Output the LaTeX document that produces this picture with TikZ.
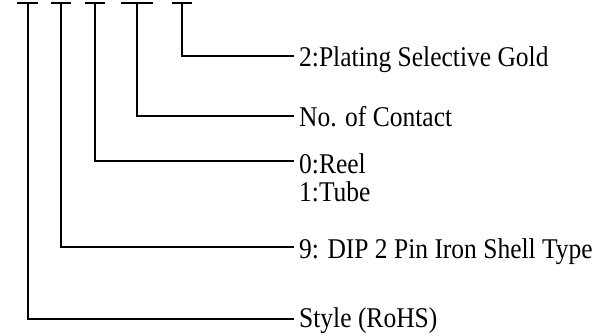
\documentclass[tikz,border=0pt]{standalone}
\usepackage{fontspec}
\usepackage{graphicx}
\setmainfont{Liberation Serif}
\newcommand\tallt[1]{\scalebox{1}[1.12]{#1}}
\begin{document}
\begin{tikzpicture}[x=1pt,y=-1pt,
  lbl/.style={anchor=base west,inner sep=0pt,font=\fontsize{25.5}{23.2}\selectfont},
  wire/.style={line width=2pt},
  tbar/.style={line width=2pt}]
\useasboundingbox (0,0) rectangle (606,336);
% T tops
\coordinate (t1) at (27.5,3);
\coordinate (t2) at (61,3);
\coordinate (t3) at (95,3);
\coordinate (t4) at (137,3);
\coordinate (t5) at (182,3);
\draw[tbar] (17,3) -- (38,3);
\draw[tbar] (51,3) -- (71,3);
\draw[tbar] (85,3) -- (105,3);
\draw[tbar] (121,3) -- (153,3);
\draw[tbar] (172,3) -- (192,3);
% labels
\node[lbl] (l5) at (299,67) {\tallt{2:Plating Selective Gold}};
\node[lbl] (l4) at (299,127) {\tallt{No. of Contact}};
\node[lbl] (l3) at (299,174) {\tallt{\begin{tabular}[t]{@{}l@{}}0:Reel\\1:Tube\end{tabular}}};
\node[lbl] (l2) at (299,259) {\tallt{9: DIP 2 Pin Iron Shell Type}};
\node[lbl] (l1) at (299,328) {\tallt{Style (RoHS)}};
% connectors
\draw[wire] (t5) |- ([shift={(-5,-11)}]l5.base west);
\draw[wire] (t4) |- ([shift={(-5,-11)}]l4.base west);
\draw[wire] (t3) |- ([shift={(-5,-13)}]l3.base west);
\draw[wire] (t2) |- ([shift={(-5,-12)}]l2.base west);
\draw[wire] (t1) |- ([shift={(-5,-9)}]l1.base west);
\end{tikzpicture}
\end{document}
